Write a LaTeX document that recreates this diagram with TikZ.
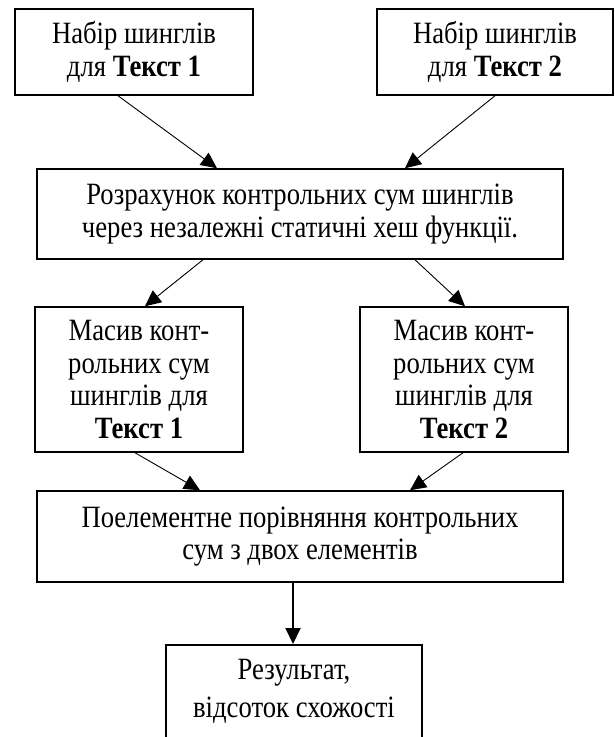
\documentclass[tikz,border=0pt]{standalone}
\usepackage{fontspec}
\setmainfont{Liberation Serif}[FakeStretch=0.86]
\usetikzlibrary{arrows.meta}
\begin{document}
\begin{tikzpicture}[x=1pt,y=-1pt,
  box/.style={draw, line width=1.5pt, align=center, inner sep=0pt,
    font=\fontsize{31}{32.5}\selectfont},
  txt/.style={align=center, inner sep=0pt, font=\fontsize{31}{38}\selectfont},
  arr/.style={-{Triangle[length=16pt,width=15pt]}, line width=0.9pt},
  arrbold/.style={-{Triangle[length=16pt,width=15pt]}, line width=2pt}]
\useasboundingbox (0,0) rectangle (615,737);
\clip (0,0) rectangle (615,737);

% shingle sets
\node[box, minimum width=238pt, minimum height=86pt] (s1) at (134,52)
  {Набір шинглів\\для \textbf{Текст 1}};
\node[box, minimum width=236pt, minimum height=86pt] (s2) at (495,52)
  {Набір шинглів\\для \textbf{Текст 2}};

% checksum computation
\node[box, minimum width=526pt, minimum height=90pt] (calc) at (300,214)
  {Розрахунок контрольних сум шинглів\\через незалежні статичні хеш функції.};

% checksum arrays
\node[box, minimum width=208pt, minimum height=145pt] (m1) at (139,379.5)
  {Масив конт-\\рольних сум\\шинглів для\\\textbf{Текст 1}};
\node[box, minimum width=208pt, minimum height=145pt] (m2) at (464,379.5)
  {Масив конт-\\рольних сум\\шинглів для\\\textbf{Текст 2}};

% comparison
\node[box, minimum width=526pt, minimum height=91pt] (cmp) at (300,536.5)
  {Поелементне порівняння контрольних\\сум з двох елементів};

% result (box runs past the lower edge)
\node[box, anchor=north, minimum width=256pt, minimum height=130pt] (res) at (294,644) {};
\node[txt, anchor=north] (restxt) at ([yshift=-15pt]res.north)
  {Результат,\\відсоток схожості};

% connectors
\draw[arr] ([xshift=-16pt]s1.south) -- ([xshift=-83pt]calc.north);
\draw[arr] (s2.south) -- ([xshift=105pt]calc.north);
\draw[arr] ([xshift=-97pt]calc.south) -- ([xshift=6pt]m1.north);
\draw[arr] ([xshift=115pt]calc.south) -- ([xshift=1pt]m2.north);
\draw[arr] ([xshift=-4pt]m1.south) -- ([xshift=-100pt]cmp.north);
\draw[arr] ([xshift=-1pt]m2.south) -- ([xshift=110pt]cmp.north);
\draw[arrbold] ([xshift=-7pt]cmp.south) -- ([xshift=-1pt]res.north);
\end{tikzpicture}
\end{document}
